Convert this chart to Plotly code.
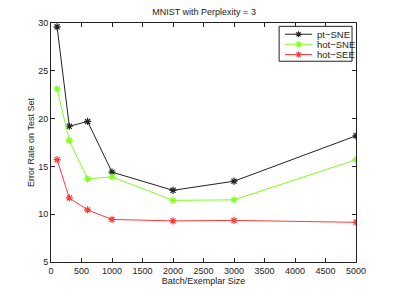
import plotly.graph_objects as go

batch_sizes = [100, 300, 600, 1000, 2000, 3000, 5000]
pt_sne = [29.6, 19.2, 19.7, 14.4, 12.5, 13.45, 18.2]
hot_sne = [23.1, 17.7, 13.7, 13.9, 11.45, 11.5, 15.7]
hot_see = [15.7, 11.7, 10.45, 9.45, 9.3, 9.35, 9.15]

series_names = ["pt\u2212SNE", "hot\u2212SNE", "hot\u2212SEE"]
series_values = [pt_sne, hot_sne, hot_see]
series_colors = ["#222222", "#7fff1f", "#ff3838"]

FONT = "Liberation Sans, Arial, sans-serif"
ASTER = "M-3,0L3,0M0,-3L0,3M-2.1,-2.1L2.1,2.1M-2.1,2.1L2.1,-2.1"

fig = go.Figure()
for name, vals, col in zip(series_names, series_values, series_colors):
    fig.add_trace(go.Scatter(
        x=batch_sizes, y=vals, name=name, mode="lines+markers",
        line=dict(color=col, width=1),
        marker=dict(symbol="asterisk-open", size=6, color=col, line=dict(color=col, width=1.2)),
        showlegend=False,
    ))

axis_common = dict(
    showgrid=False, zeroline=False, showline=True, linecolor="#222222", linewidth=1,
    mirror="ticks", ticks="inside", ticklen=4, tickcolor="#222222", automargin=False,
    tickfont=dict(family=FONT, size=9, color="#222222"),
)

# custom compact legend (layout decoration)
shapes = [dict(type="rect", xref="paper", yref="paper", x0=0.748, x1=0.987, y0=0.840, y1=0.986,
               line=dict(color="#222222", width=1), fillcolor="white", layer="above")]
annotations = []
row_y = [0.953, 0.911, 0.868]
for name, col, ry in zip(series_names, series_colors, row_y):
    shapes.append(dict(type="line", xref="paper", yref="paper", x0=0.767, x1=0.856, y0=ry, y1=ry,
                       line=dict(color=col, width=1), layer="above"))
    shapes.append(dict(type="path", xref="paper", yref="paper", xsizemode="pixel", ysizemode="pixel",
                       xanchor=0.8115, yanchor=ry, path=ASTER,
                       line=dict(color=col, width=1.1), layer="above"))
    annotations.append(dict(xref="paper", yref="paper", x=0.866, y=ry, xanchor="left", yanchor="middle",
                            text=name, showarrow=False, font=dict(family=FONT, size=9.5, color="#222222")))

fig.update_layout(
    width=394, height=296,
    margin=dict(l=51, r=38, t=23, b=34, autoexpand=False),
    paper_bgcolor="white", plot_bgcolor="white",
    title=dict(text="MNIST with Perplexity = 3", x=0.518, xanchor="center", y=0.959, yanchor="middle",
               font=dict(family=FONT, size=9, color="#222222"), automargin=False),
    xaxis=dict(range=[0, 5000], tickvals=list(range(0, 5001, 500)),
               title=dict(text="Batch/Exemplar Size", standoff=0,
                          font=dict(family=FONT, size=9, color="#222222")),
               **axis_common),
    yaxis=dict(range=[5, 30], tickvals=list(range(5, 31, 5)),
               title=dict(text="Error Rate on Test Set", standoff=2,
                          font=dict(family=FONT, size=9, color="#222222")),
               **axis_common),
    shapes=shapes, annotations=annotations,
    showlegend=False,
)

fig.write_html("out.html", config={"displayModeBar": False, "staticPlot": True},
               post_script="document.body.style.margin='0';document.body.style.overflow='hidden';")
